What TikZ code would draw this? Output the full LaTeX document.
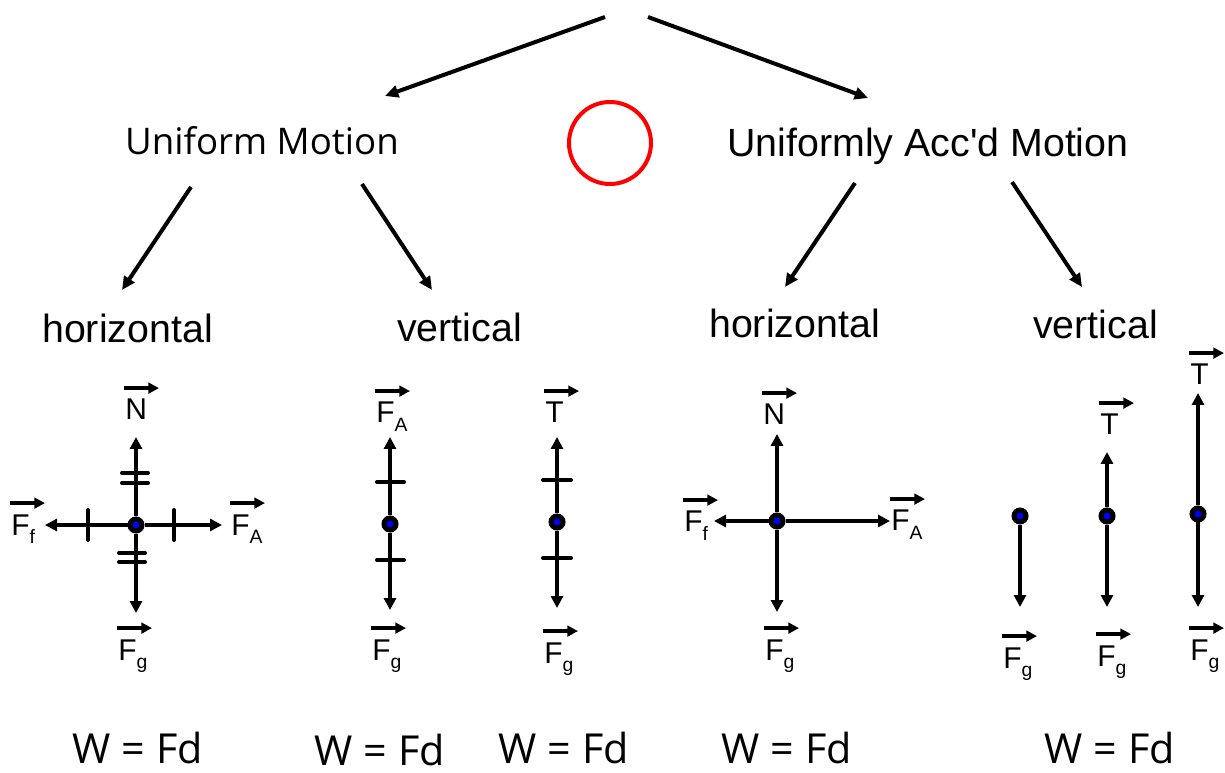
\documentclass[tikz,border=0pt]{standalone}
\usepackage{fontspec}
\setmainfont{Liberation Sans}[Ligatures=TeXOff]
\newfontfamily\segoe{Open Sans}
\usetikzlibrary{arrows.meta}
\newcommand\vsub[1]{\raisebox{-6.5pt}{\fontsize{14.5}{15}\selectfont #1}}
\newcommand\flabel[3]{\node[flab] (#1) at (#2) {#3};
  \draw[ovec] ([shift={(-1,-11)}]#1.north west) -- ++(35,0);}
\tikzset{
  big/.style={font=\fontsize{29.5}{32}\selectfont, inner sep=0pt, anchor=base},
  bigseg/.style={font=\segoe\fontsize{27.5}{32}\selectfont, inner sep=0pt, anchor=base},
  wseg/.style={font=\segoe\fontsize{31}{34}\selectfont, inner sep=0pt, anchor=base},
  flab/.style={font=\fontsize{22.5}{25}\selectfont, inner sep=0pt, anchor=base west},
  conn/.style={line width=3pt, -{Triangle[length=10pt,width=9pt]}},
  force/.style={line width=3pt, -{Triangle[length=9pt,width=9pt]}},
  ovec/.style={line width=3pt, -{Triangle[length=8pt,width=8pt]}},
  tickm/.style={line width=3pt, line cap=round},
  dot/.style={circle, draw=black, fill=blue, line width=3.75pt, minimum size=9pt, inner sep=0pt},
}
\begin{document}
\begin{tikzpicture}[x=0.75pt, y=-0.75pt]
\useasboundingbox (0,0) rectangle (1225,773);

% ---- top level ----
\node[bigseg] (um) at (262,155) {Uniform Motion};
\node[big] (uam) at (928,157) {Uniformly Acc'd Motion};
\node[circle, draw=red, line width=3pt, minimum size=61.5pt, inner sep=0pt] (rc) at (610,143) {};

\coordinate (rootL) at (605,17);
\coordinate (rootR) at (648,17);
\coordinate (umTop) at (385,96);
\coordinate (uamTop) at (868,98);
\draw[conn] (rootL) -- (umTop);
\draw[conn] (rootR) -- (uamTop);

% ---- second level ----
\node[big] (h1) at (127.5,343) {horizontal};
\node[big] (v1) at (459.5,342) {vertical};
\node[big] (h2) at (794.5,338) {horizontal};
\node[big] (v2) at (1095.5,339) {vertical};

\coordinate (umL) at (191,187);  \coordinate (h1T) at (122,290);
\coordinate (umR) at (362,184);  \coordinate (v1T) at (432,290);
\coordinate (uamL) at (855,183); \coordinate (h2T) at (785,287);
\coordinate (uamR) at (1012,182);\coordinate (v2T) at (1082,287);
\draw[conn] (umL) -- (h1T);
\draw[conn] (umR) -- (v1T);
\draw[conn] (uamL) -- (h2T);
\draw[conn] (uamR) -- (v2T);

% ---- diagram 1: uniform horizontal ----
\node[dot] (c1) at (136,525) {};
\coordinate (c1u) at (136,437); \coordinate (c1d) at (136,613);
\coordinate (c1l) at (45,525);  \coordinate (c1r) at (222,525);
\draw[force] (c1) -- (c1u);
\draw[force] (c1) -- (c1d);
\draw[force] (c1) -- (c1l);
\draw[force] (c1) -- (c1r);
\draw[tickm] (88,510) -- (88,540);
\draw[tickm] (174,510) -- (174,540);
\draw[tickm] (122,473) -- (148,473);
\draw[tickm] (122,483) -- (148,483);
\draw[tickm] (119,553) -- (145,553);
\draw[tickm] (119,562) -- (145,562);
\flabel{d1N}{125,420}{N}
\flabel{d1Ff}{11,535}{F\vsub{f}}
\flabel{d1FA}{231,535}{F\vsub{A}}
\flabel{d1Fg}{118,660}{F\vsub{g}}

% ---- diagram 2: uniform vertical (F_A) ----
\node[dot] (c2) at (390,524) {};
\coordinate (c2u) at (390,437); \coordinate (c2d) at (390,610);
\draw[force] (c2) -- (c2u);
\draw[force] (c2) -- (c2d);
\draw[tickm] (377,482) -- (404,482);
\draw[tickm] (377,560) -- (404,560);
\flabel{d2FA}{376,423}{F\vsub{A}}
\flabel{d2Fg}{372,660}{F\vsub{g}}

% ---- diagram 3: uniform vertical (T) ----
\node[dot] (c3) at (557,522) {};
\coordinate (c3u) at (557,437); \coordinate (c3d) at (557,608);
\draw[force] (c3) -- (c3u);
\draw[force] (c3) -- (c3d);
\draw[tickm] (543,480) -- (571,480);
\draw[tickm] (543,558) -- (571,558);
\flabel{d3T}{545,423}{T}
\flabel{d3Fg}{544,663}{F\vsub{g}}

% ---- diagram 4: accelerated horizontal ----
\node[dot] (c4) at (777,521) {};
\coordinate (c4u) at (777,434); \coordinate (c4d) at (777,612);
\coordinate (c4l) at (714,521); \coordinate (c4r) at (890,521);
\draw[force] (c4) -- (c4u);
\draw[force] (c4) -- (c4d);
\draw[force] (c4) -- (c4l);
\draw[force] (c4) -- (c4r);
\flabel{d4N}{763,425}{N}
\flabel{d4Ff}{684,532}{F\vsub{f}}
\flabel{d4FA}{891,531}{F\vsub{A}}
\flabel{d4Fg}{765,660}{F\vsub{g}}

% ---- diagram 5: accelerated vertical ----
\node[dot] (c5) at (1020,516) {};
\coordinate (c5d) at (1020,607);
\draw[force] (c5) -- (c5d);
\flabel{d5Fg}{1003,668}{F\vsub{g}}

\node[dot] (c6) at (1107,516) {};
\coordinate (c6u) at (1107,452); \coordinate (c6d) at (1107,607);
\draw[force] (c6) -- (c6u);
\draw[force] (c6) -- (c6d);
\flabel{d6T}{1100,435}{T}
\flabel{d6Fg}{1097,666}{F\vsub{g}}

\node[dot] (c7) at (1198,514) {};
\coordinate (c7u) at (1198,393); \coordinate (c7d) at (1198,607);
\draw[force] (c7) -- (c7u);
\draw[force] (c7) -- (c7d);
\flabel{d7T}{1190,385}{T}
\flabel{d7Fg}{1190,660}{F\vsub{g}}

% ---- work formulas ----
\node[wseg] (w1) at (138,763) {W = Fd};
\node[wseg] (w2) at (380,765) {W = Fd};
\node[wseg] (w3) at (564,763) {W = Fd};
\node[wseg] (w4) at (787,763) {W = Fd};
\node[wseg] (w5) at (1110,763) {W = Fd};
\end{tikzpicture}
\end{document}
